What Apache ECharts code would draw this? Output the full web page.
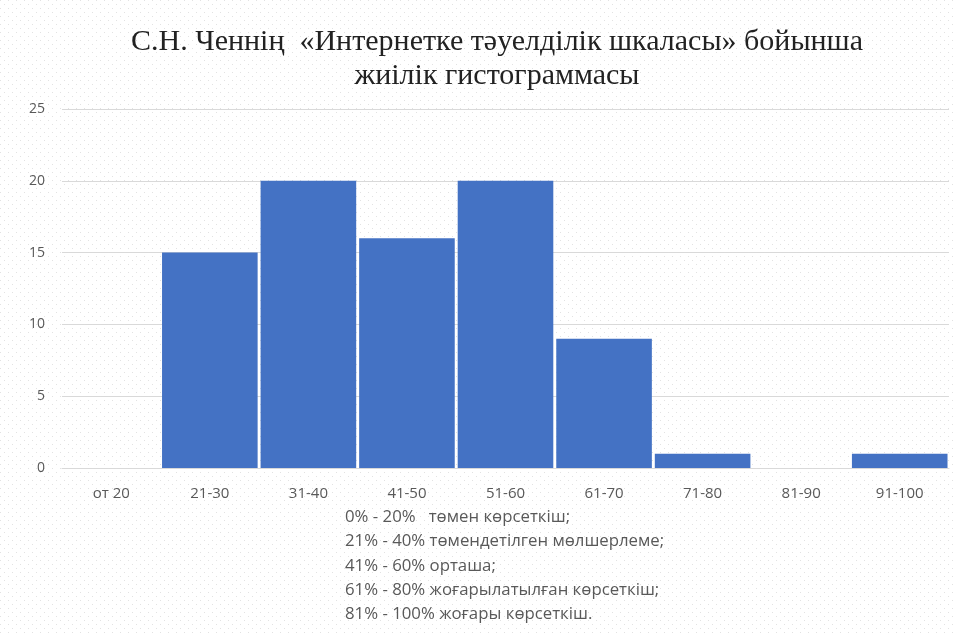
<!DOCTYPE html>
<html><head><meta charset="utf-8">
<script src="https://cdn.jsdelivr.net/npm/echarts@6/dist/echarts.min.js"></script>
<style>html,body{margin:0;padding:0;background:#fff}#c{width:954px;height:634px}</style>
</head><body><div id="c"></div>
<script>
const titleLines = ["С.Н. Ченнің  «Интернетке тәуелділік шкаласы» бойынша", "жиілік гистограммасы"];
const categories = ["от 20","21-30","31-40","41-50","51-60","61-70","71-80","81-90","91-100"];
const values = [0,15,20,16,20,9,1,0,1];
const yTicks = [0,5,10,15,20,25];
const notes = [
  "0% - 20%   төмен көрсеткіш;",
  "21% - 40% төмендетілген мөлшерлеме;",
  "41% - 60% орташа;",
  "61% - 80% жоғарылатылған көрсеткіш;",
  "81% - 100% жоғары көрсеткіш."
];

// dotted background pattern
const pc = document.createElement('canvas');
pc.width = 8; pc.height = 8;
const g = pc.getContext('2d');
g.fillStyle = '#ffffff'; g.fillRect(0,0,8,8);
g.fillStyle = '#e2e2e2';
g.fillRect(0,0,1,1);
g.fillRect(4,4,1,1);

const chart = echarts.init(document.getElementById('c'), null, {renderer:'canvas'});
chart.setOption({
  backgroundColor: {image: pc, repeat: 'repeat'},
  animation: false,
  title: {
    text: titleLines.join('\n'),
    left: 492, top: 20, textAlign: 'center',
    textStyle: {fontFamily: 'Liberation Serif', fontSize: 30, fontWeight: 'normal', color: '#222', lineHeight: 34}
  },
  grid: {left: 62, right: 5, top: 109, bottom: 166, containLabel: false},
  xAxis: {
    type: 'category', data: categories,
    axisLine: {lineStyle: {color: '#d9d9d9'}},
    axisTick: {show: false},
    axisLabel: {color: '#595959', fontFamily: 'Open Sans', fontSize: 15, margin: 18}
  },
  yAxis: {
    type: 'value', min: 0, max: yTicks[yTicks.length-1], interval: 5,
    axisLine: {show: false}, axisTick: {show: false},
    splitLine: {lineStyle: {color: '#d9d9d9'}},
    axisLabel: {color: '#595959', fontFamily: 'Open Sans', fontSize: 14, margin: 17}
  },
  series: [{
    type: 'bar', data: values, barCategoryGap: '3%',
    itemStyle: {color: '#4472C4'}
  }],
  graphic: notes.map((t, i) => ({
    type: 'text', left: 345, top: 509 + i*24.2,
    style: {text: t, fill: '#595959', font: '16.8px "Open Sans"'}
  }))
});
</script></body></html>
